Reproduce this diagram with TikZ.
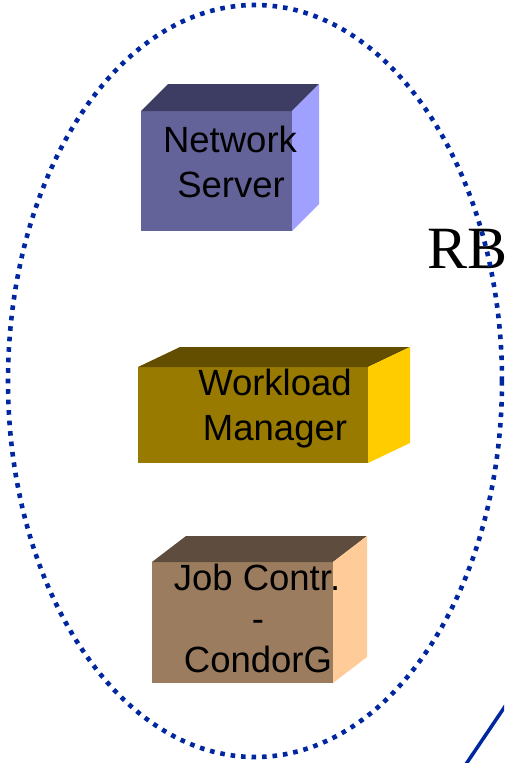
\documentclass[tikz,border=0pt]{standalone}
\usepackage{fontspec}
\setmainfont{Liberation Sans}
\newfontfamily\rbfont{Liberation Serif}
\usetikzlibrary{calc}
\definecolor{ringblue}{RGB}{0,38,160}
\definecolor{nsF}{RGB}{99,99,153}
\definecolor{nsT}{RGB}{61,61,99}
\definecolor{nsR}{RGB}{160,160,255}
\definecolor{wmF}{RGB}{153,122,0}
\definecolor{wmT}{RGB}{99,78,0}
\definecolor{wmR}{RGB}{255,204,0}
\definecolor{jcF}{RGB}{156,124,94}
\definecolor{jcT}{RGB}{94,77,62}
\definecolor{jcR}{RGB}{255,204,153}
\begin{document}
\begin{tikzpicture}[x=1pt,y=-1pt,
  front/.style={inner sep=0pt,outer sep=0pt,draw=none},
  lbl/.style={inner sep=0pt,outer sep=0pt,anchor=base,font=\fontsize{36.5}{45}\selectfont}]
\useasboundingbox (0,0) rectangle (504,763);
\clip (0,0) rectangle (504,763);
% Network Server
\node[front,fill=nsF,minimum width=151pt,minimum height=120pt] (ns) at (216.5,171) {};
\fill[nsT] (ns.north west) -- ++(27,-27) -- ($(ns.north east)+(27,-27)$) -- (ns.north east) -- cycle;
\fill[nsR] (ns.north east) -- ++(27,-27) -- ++(0,120) -- (ns.south east) -- cycle;
\node[lbl] (ns1) at (230,152) {Network};
\node[lbl] (ns2) at (231,197) {Server};
% Workload Manager
\node[front,fill=wmF,minimum width=230pt,minimum height=96pt] (wm) at (253,415) {};
\fill[wmT] (wm.north west) -- ++(42,-20) -- ($(wm.north east)+(42,-20)$) -- (wm.north east) -- cycle;
\fill[wmR] (wm.north east) -- ++(42,-20) -- ++(0,96) -- (wm.south east) -- cycle;
\node[lbl] (wm1) at (275,395) {Workload};
\node[lbl] (wm2) at (275,440) {Manager};
% Job Controller
\node[front,fill=jcF,minimum width=181pt,minimum height=121pt] (jc) at (242.5,622.5) {};
\fill[jcT] (jc.north west) -- ++(34,-26) -- ($(jc.north east)+(34,-26)$) -- (jc.north east) -- cycle;
\fill[jcR] (jc.north east) -- ++(34,-26) -- ++(0,121) -- (jc.south east) -- cycle;
\node[lbl] (jc1) at (257,590) {Job Contr.};
\node[lbl] (jc2) at (258,631) {-};
\node[lbl] (jc3) at (258,672) {CondorG};
% RB label
\node[inner sep=0pt,anchor=base west,font=\rbfont\fontsize{60}{70}\selectfont] (rb) at (427,268) {RB};
% dotted ring
\draw[ringblue,line width=4.6pt,dash pattern=on 4.6pt off 5.9pt] (255,381) ellipse [x radius=247, y radius=376];
% outgoing line
\coordinate (la) at (460,773);
\coordinate (lb) at (512,696);
\draw[ringblue,line width=3.5pt] (la) -- (lb);
\end{tikzpicture}
\end{document}
